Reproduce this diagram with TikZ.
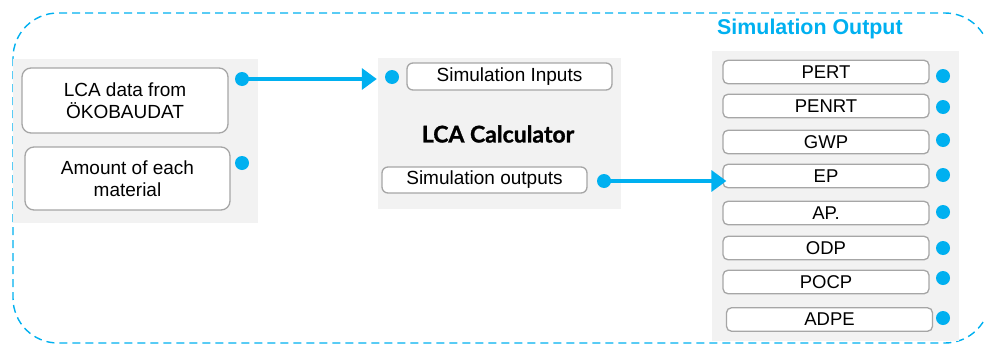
\documentclass[tikz,border=0pt]{standalone}
\usepackage{fontspec}
\setmainfont{Liberation Sans}
\newfontfamily\calcfont[BoldFeatures={FakeBold=1.2}]{Lato}
\usetikzlibrary{arrows.meta}
\definecolor{skyblue}{HTML}{00B0F0}
\definecolor{panelgray}{HTML}{F2F2F2}
\definecolor{boxline}{HTML}{A6A6A6}
\begin{document}
\begin{tikzpicture}[x=1pt,y=-1pt,
  panel/.style={fill=panelgray, inner sep=0pt},
  box/.style={draw=boxline, line width=1.3pt, fill=white, rounded corners=9pt,
    align=center, inner sep=0pt, font=\fontsize{19}{22}\selectfont},
  outbox/.style={box, rounded corners=5pt, minimum width=206pt, minimum height=23.5pt,
    font=\fontsize{18.5}{21}\selectfont},
  port/.style={circle, fill=skyblue, minimum size=14pt, inner sep=0pt},
  flow/.style={draw=skyblue, line width=3.5pt, -{Triangle[length=15pt,width=21pt]}},
  frame/.style={draw=skyblue, line width=1.4pt, dash pattern=on 8pt off 5pt, rounded corners=45pt}]
\useasboundingbox (0,0) rectangle (984,343);
\begin{scope}
\clip (0,0) rectangle (984,343);
% outer dashed frame
\draw[frame] (13,13) rectangle (990,343);

% grey panels
\node[panel, minimum width=245pt, minimum height=164pt] (leftpanel) at (135.5,141) {};
\node[panel, minimum width=243pt, minimum height=151pt] (calcpanel) at (499.5,133.5) {};
\node[panel, minimum width=247pt, minimum height=290pt] (outpanel) at (835.5,196) {};
\end{scope}

% input side
\node[box, minimum width=206pt, minimum height=65pt] (lcadata) at (125,100.5) {LCA data from\\ÖKOBAUDAT};
\node[box, minimum width=205pt, minimum height=63pt] (amount) at (127.5,178.5) {Amount of each\\material};
\node[port] (lcaport) at (242,79) {};
\node[port] (amountport) at (242,163) {};

% calculator
\node[box, rounded corners=6pt, minimum width=205pt, minimum height=27pt] (simin) at (509.5,76.5) {Simulation Inputs};
\node[port] (inport) at (392,77) {};
\node[font=\calcfont\bfseries\fontsize{23}{26}\selectfont] (calc) at (498,134) {LCA Calculator};
\node[box, rounded corners=6pt, minimum width=205pt, minimum height=26pt] (simout) at (484.5,180) {Simulation outputs};
\node[port] (outport) at (604,181) {};

% simulation output
\node[text=skyblue, anchor=west, inner sep=0pt, font=\bfseries\fontsize{21.4}{24}\selectfont] (title) at (717,29) {Simulation Output};
\foreach \n/\lab/\bx/\by/\py in {pert/PERT/826/72/76, penrt/PENRT/826/106/107,
    gwp/GWP/826/142/140, ep/EP/826/176/175, ap/AP./826/213/212,
    odp/ODP/826/248/248, pocp/POCP/826/282/278, adpe/ADPE/829.5/319.5/318}{
  \node[outbox] (\n) at (\bx,\by) {\lab};
  \node[port] (\n port) at (943,\py) {};
}

% connectors
\draw[flow, shorten <=6pt, shorten >=8pt] (lcaport.center) -- (lcaport.center -| inport.west);
\draw[flow, shorten >=-4pt] (outport.center) -- (outport.center -| ep.west);
\end{tikzpicture}
\end{document}
